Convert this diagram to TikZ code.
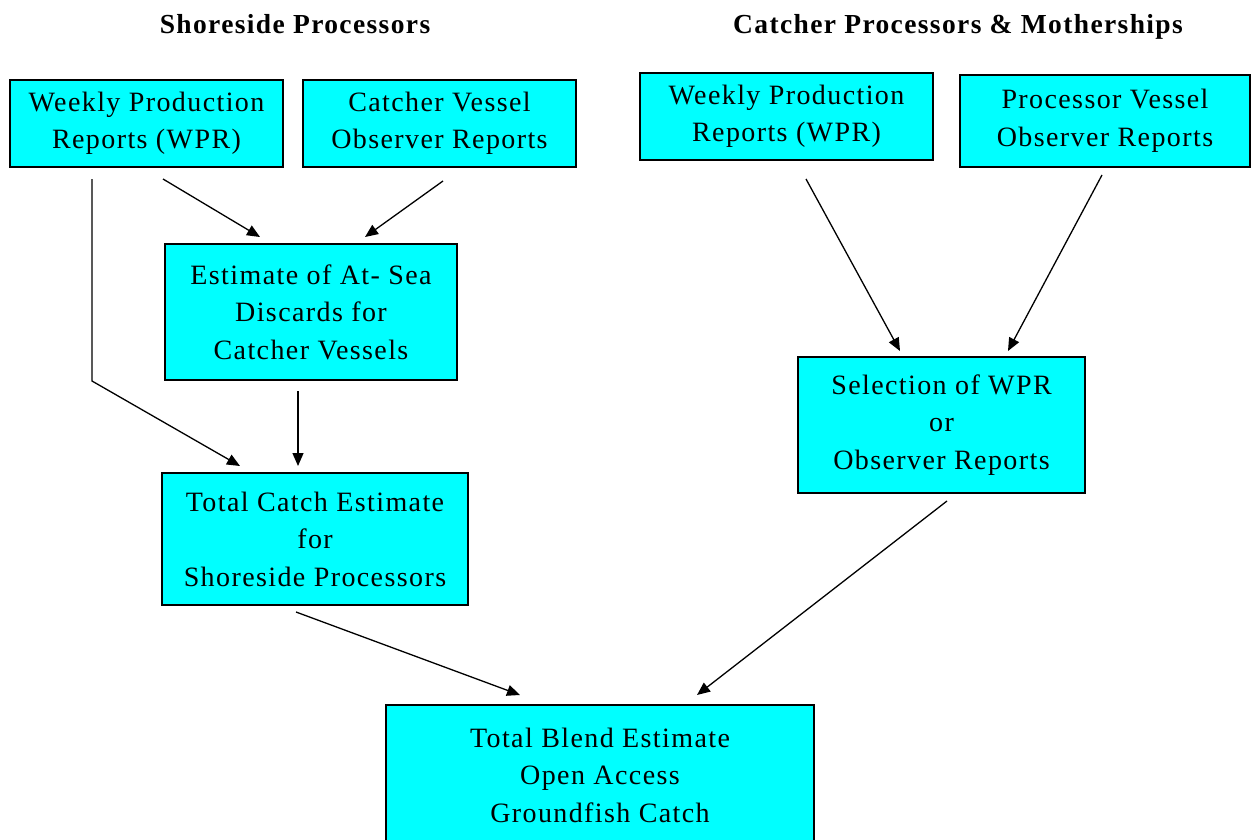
\documentclass[tikz,border=0pt]{standalone}
\usepackage{fontspec}
\setmainfont{Liberation Serif}[LetterSpace=5]
\usetikzlibrary{arrows.meta}
\definecolor{boxcyan}{RGB}{0,255,255}
\begin{document}
\begin{tikzpicture}[x=1pt,y=-1pt,
  box/.style={draw=black,line width=2pt,fill=boxcyan,align=center,inner sep=0pt,
    font=\fontsize{28}{37.5}\selectfont},
  head/.style={anchor=base,font=\fontsize{27.5}{30}\selectfont\bfseries},
  conn/.style={line width=1.3pt,-{Triangle[length=13pt,width=11pt]}}]
\useasboundingbox (0,0) rectangle (1253,840);
\node[head] (h1) at (295,34) {Shoreside Processors};
\node[head] (h2) at (958,34) {Catcher Processors \& Motherships};
\node[box,minimum width=273pt,minimum height=87pt] (b1) at (146.5,123.5) {Weekly Production\\Reports (WPR)};
\node[box,minimum width=273pt,minimum height=87pt] (b2) at (439.5,123.5) {Catcher Vessel\\Observer Reports};
\node[box,minimum width=293pt,minimum height=87pt] (b3) at (786.5,116.5) {Weekly Production\\Reports (WPR)};
\node[box,minimum width=290pt,minimum height=92pt] (b4) at (1105,121) {Processor Vessel\\Observer Reports};
\node[box,minimum width=292pt,minimum height=136pt] (b5) at (311,312) {Estimate of At- Sea\\Discards for\\Catcher Vessels};
\node[box,minimum width=287pt,minimum height=136pt] (b6) at (941.5,425) {Selection of WPR\\or\\Observer Reports};
\node[box,minimum width=306pt,minimum height=132pt] (b7) at (315,539) {Total Catch Estimate\\for\\Shoreside Processors};
\node[box,minimum width=428pt,minimum height=140pt] (b8) at (600,775) {Total Blend Estimate\\Open Access\\Groundfish Catch};
\coordinate (k1) at ([xshift=-54.5pt,yshift=-213pt]b1.south);
\draw[conn] ([xshift=16.5pt,yshift=-11pt]b1.south) -- ([xshift=-51pt,yshift=6pt]b5.north);
\draw[conn] ([xshift=3.5pt,yshift=-13pt]b2.south) -- ([xshift=54pt,yshift=6pt]b5.north);
\draw[conn] ([xshift=-54.5pt,yshift=-11pt]b1.south) -- (k1) -- ([xshift=-75pt,yshift=6pt]b7.north);
\draw[conn] ([xshift=-13pt,yshift=-10pt]b5.south) -- ([xshift=-17pt,yshift=6pt]b7.north);
\draw[conn] ([xshift=19.5pt,yshift=-18pt]b3.south) -- ([xshift=-41.5pt,yshift=5pt]b6.north);
\draw[conn] ([xshift=-3pt,yshift=-7pt]b4.south) -- ([xshift=66.5pt,yshift=5pt]b6.north);
\draw[conn] ([xshift=-19pt,yshift=-6pt]b7.south) -- ([xshift=-80pt,yshift=9pt]b8.north);
\draw[conn] ([xshift=5.5pt,yshift=-7pt]b6.south) -- ([xshift=97pt,yshift=9pt]b8.north);
\end{tikzpicture}
\end{document}
